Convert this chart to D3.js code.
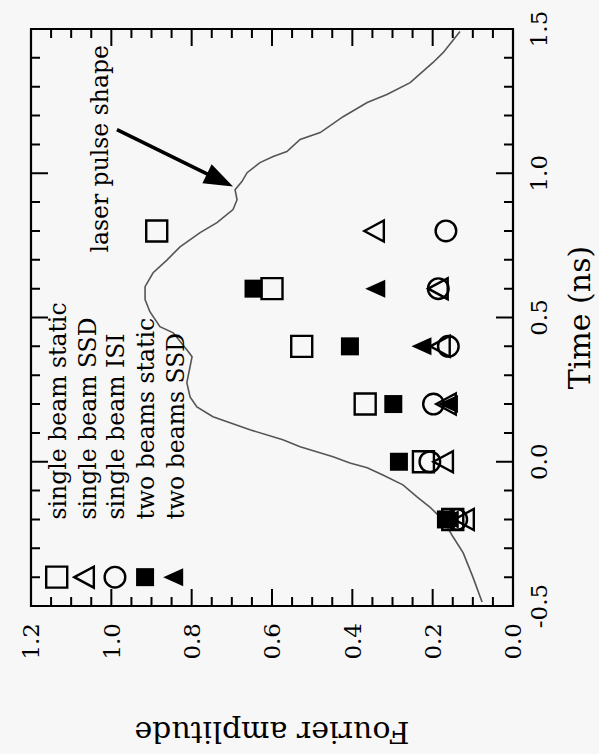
<!DOCTYPE html>
<html>
<head>
<meta charset="utf-8">
<script src="https://cdn.jsdelivr.net/npm/d3@7"></script>
<style>
  body { margin: 0; background: #f7f7f7; }
  svg { display: block; }
</style>
</head>
<body>
<svg id="chart" width="599" height="754"></svg>
<script>
// measured at t = -0.2 ... 0.8 ns
const times = [-0.2, 0.0, 0.2, 0.4, 0.6, 0.8];
const singleStatic = [0.15, 0.223, 0.368, 0.526, 0.60, 0.887];
const singleSSD    = [0.115, 0.167, 0.16, 0.175, 0.18, 0.339];
const singleISI    = [0.14, 0.207, 0.198, 0.161, 0.186, 0.167];
const twoStatic    = [0.167, 0.284, 0.298, 0.406, 0.646, null];
const twoSSD       = [0.155, null, 0.157, 0.223, 0.338, null];

const seriesNames = ['single beam static', 'single beam SSD', 'single beam ISI', 'two beams static', 'two beams SSD'];
const seriesShapes = ['openSquare', 'openTriangle', 'openCircle', 'filledSquare', 'filledTriangle'];
const legendAmp = [1.136, 1.061, 0.991, 0.916, 0.841];
const legendTime = -0.4;

// laser pulse shape (same axes, arbitrary scale)
const pulseT = [-0.486, -0.399, -0.316, -0.261, -0.202, -0.157, -0.122, -0.080, -0.046, -0.021, -0.004, 0.017,
  0.052, 0.076, 0.111, 0.156, 0.190, 0.225, 0.274, 0.364, 0.388, 0.447, 0.468, 0.520, 0.562, 0.607, 0.655,
  0.700, 0.745, 0.794, 0.829, 0.874, 0.908, 0.943, 0.971, 1.002, 1.037, 1.058, 1.075, 1.117, 1.141, 1.196,
  1.245, 1.273, 1.314, 1.384, 1.418, 1.491];
const pulseA = [0.077, 0.100, 0.124, 0.149, 0.174, 0.207, 0.239, 0.274, 0.324, 0.363, 0.406, 0.448,
  0.530, 0.573, 0.655, 0.747, 0.787, 0.804, 0.812, 0.799, 0.812, 0.846, 0.879, 0.904, 0.916, 0.916, 0.896,
  0.861, 0.829, 0.779, 0.737, 0.697, 0.687, 0.692, 0.675, 0.662, 0.630, 0.597, 0.563, 0.530, 0.480, 0.423,
  0.363, 0.314, 0.256, 0.199, 0.174, 0.132];

const timeMajor = [-0.5, 0.0, 0.5, 1.0, 1.5];
const ampMajor = [0.0, 0.2, 0.4, 0.6, 0.8, 1.0, 1.2];

// chart is drawn upright and then turned a quarter turn
const W = 577, H = 482;
const svg = d3.select('#chart');
const g = svg.append('g').attr('transform', 'translate(31,606) rotate(-90)');

const x = d3.scaleLinear().domain([-0.5, 1.5]).range([0, W]);
const y = d3.scaleLinear().domain([0, 1.2]).range([H, 0]);

const timeMinor = d3.range(-5, 16).map(d => d / 10).filter(d => !timeMajor.some(m => Math.abs(m - d) < 1e-9));
const ampMinor = d3.range(0, 25).map(d => d / 20).filter(d => !ampMajor.some(m => Math.abs(m - d) < 1e-9));

const textFont = 'DejaVu Serif';
const fmt = d => d3.format('.1f')(d).replace('\u2212', '-');

// frame and inward ticks, built as filled bars
const bars = d3.path();
const fw = 2.2, tw = 2;
bars.rect(-fw / 2, -fw / 2, W + fw, fw);
bars.rect(-fw / 2, H - fw / 2, W + fw, fw);
bars.rect(-fw / 2, -fw / 2, fw, H + fw);
bars.rect(W - fw / 2, -fw / 2, fw, H + fw);
function timeTicks(vals, len) {
  vals.forEach(v => {
    bars.rect(x(v) - tw / 2, H - len, tw, len);
    bars.rect(x(v) - tw / 2, 0, tw, len);
  });
}
function ampTicks(vals, len) {
  vals.forEach(v => {
    bars.rect(0, y(v) - tw / 2, len, tw);
    bars.rect(W - len, y(v) - tw / 2, len, tw);
  });
}
timeTicks(timeMajor, 17);
timeTicks(timeMinor, 9);
ampTicks(ampMajor, 17);
ampTicks(ampMinor, 9);
g.append('path').attr('d', bars.toString()).attr('fill', '#000');

// tick labels
g.append('g').selectAll('text')
  .data(timeMajor)
  .join('text')
  .attr('x', d => x(d)).attr('y', H + 17).attr('dy', '0.73em')
  .attr('text-anchor', 'middle')
  .attr('font-family', textFont).attr('font-size', 23).attr('fill', '#000')
  .text(fmt);
g.append('g').selectAll('text')
  .data(ampMajor)
  .join('text')
  .attr('x', -17).attr('y', d => y(d)).attr('dy', '0.36em')
  .attr('text-anchor', 'end')
  .attr('font-family', textFont).attr('font-size', 23).attr('fill', '#000')
  .text(fmt);

// axis titles
g.append('text')
  .attr('x', W / 2).attr('y', H + 77)
  .attr('text-anchor', 'middle')
  .attr('font-family', textFont).attr('font-size', 30)
  .text('Time (ns)');
g.append('text')
  .attr('transform', `translate(-116,${H / 2}) rotate(-90)`)
  .attr('text-anchor', 'middle')
  .attr('font-family', textFont).attr('font-size', 30)
  .text('Fourier amplitude');

// pulse shape
const pulse = pulseT.map((t, i) => [t, pulseA[i]]);
g.append('path')
  .datum(pulse)
  .attr('fill', 'none')
  .attr('stroke', '#555')
  .attr('stroke-width', 1.6)
  .attr('d', d3.line().x(d => x(d[0])).y(d => y(d[1])));

// markers as paths
const shapePaths = {
  openSquare: 'M-10.5,-10.5H10.5V10.5H-10.5Z',
  filledSquare: 'M-9,-9H9V9H-9Z',
  openCircle: 'M10.3,0A10.3,10.3,0,1,1,-10.3,0A10.3,10.3,0,1,1,10.3,0Z',
  openTriangle: 'M0,-12.5L10.5,7L-10.5,7Z',
  filledTriangle: 'M0,-12L9,8L-9,8Z'
};
const isFilled = s => s.indexOf('filled') === 0;

const seriesValues = [singleStatic, singleSSD, singleISI, twoStatic, twoSSD];
const points = [];
seriesValues.forEach((vals, si) => {
  times.forEach((t, i) => { if (vals[i] !== null) points.push({ t: t, a: vals[i], shape: seriesShapes[si] }); });
});
seriesNames.forEach((name, i) => points.push({ t: legendTime, a: legendAmp[i], shape: seriesShapes[i] }));

g.append('g').selectAll('path')
  .data(points)
  .join('path')
  .attr('transform', d => `translate(${x(d.t)},${y(d.a)})`)
  .attr('d', d => shapePaths[d.shape])
  .attr('fill', d => isFilled(d.shape) ? '#000' : 'none')
  .attr('stroke', d => isFilled(d.shape) ? 'none' : '#000')
  .attr('stroke-width', 2.4);

// legend labels
g.append('g').selectAll('text')
  .data(seriesNames)
  .join('text')
  .attr('x', x(-0.2))
  .attr('y', (d, i) => y(legendAmp[i]) + 9)
  .attr('font-family', textFont).attr('font-size', 23.5)
  .text(d => d);

// annotation
g.append('text')
  .attr('x', x(0.725)).attr('y', y(1.008))
  .attr('font-family', textFont).attr('font-size', 23.5)
  .text('laser pulse shape');

const tail = [x(1.151), y(0.986)], tip = [x(0.954), y(0.697)];
const ang = Math.atan2(tip[1] - tail[1], tip[0] - tail[0]);
const headLen = 29, headHalf = 10.5, shaft = 1.8;
const bx = tip[0] - headLen * Math.cos(ang), by = tip[1] - headLen * Math.sin(ang);
const nx = -Math.sin(ang), ny = Math.cos(ang);
g.append('path')
  .attr('d', `M${tail[0] + nx * shaft},${tail[1] + ny * shaft}L${bx + nx * shaft},${by + ny * shaft}` +
    `L${bx + nx * headHalf},${by + ny * headHalf}L${tip[0]},${tip[1]}` +
    `L${bx - nx * headHalf},${by - ny * headHalf}L${bx - nx * shaft},${by - ny * shaft}` +
    `L${tail[0] - nx * shaft},${tail[1] - ny * shaft}Z`)
  .attr('fill', '#000');
</script>
</body>
</html>
